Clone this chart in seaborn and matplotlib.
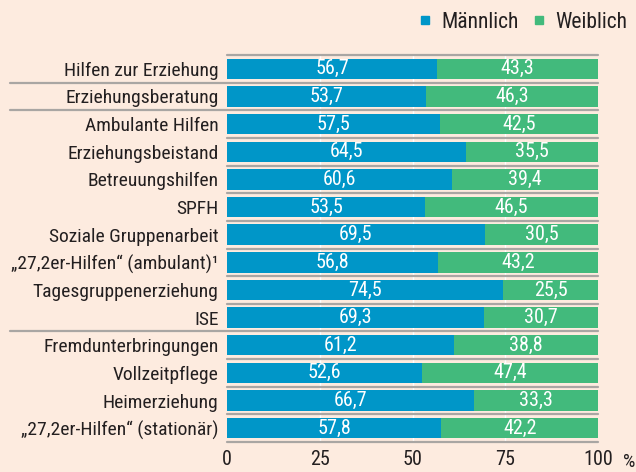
import seaborn as sns
import pandas as pd
import numpy as np
import matplotlib.pyplot as plt
from matplotlib.lines import Line2D

kategorien = [
    "Hilfen zur Erziehung", "Erziehungsberatung", "Ambulante Hilfen",
    "Erziehungsbeistand", "Betreuungshilfen", "SPFH", "Soziale Gruppenarbeit",
    "„27,2er-Hilfen“ (ambulant)¹", "Tagesgruppenerziehung", "ISE",
    "Fremdunterbringungen", "Vollzeitpflege", "Heimerziehung",
    "„27,2er-Hilfen“ (stationär)",
]
maennlich = [56.7, 53.7, 57.5, 64.5, 60.6, 53.5, 69.5, 56.8, 74.5, 69.3, 61.2, 52.6, 66.7, 57.8]
weiblich = [43.3, 46.3, 42.5, 35.5, 39.4, 46.5, 30.5, 43.2, 25.5, 30.7, 38.8, 47.4, 33.3, 42.2]
x_ticks = [0, 25, 50, 75, 100]

blau = "#0096C8"
gruen = "#42BA7C"
hintergrund = "#FDEBDF"
linie = "#A9A6A3"
text_farbe = "#231F20"

df = pd.DataFrame({"kategorie": kategorien, "maennlich": maennlich, "weiblich": weiblich})
df["gesamt"] = df["maennlich"] + df["weiblich"]

sns.set_style("white")
plt.rcParams["font.family"] = ["Roboto Condensed", "DejaVu Sans"]

fig = plt.figure(figsize=(6.36, 4.72), dpi=100, facecolor=hintergrund)
ax = fig.add_axes([227 / 636, 1 - 442 / 472, 371 / 636, 387 / 472])
ax.set_facecolor(hintergrund)

# weiße Gitterlinien hinter den Balken
for t in x_ticks[1:-1]:
    ax.axvline(t, color="white", lw=1, zorder=0)

# gestapelt: erst die Summe (grün), dann männlich darüber (blau)
sns.barplot(data=df, y="kategorie", x="gesamt", color=gruen, width=0.74,
            orient="h", ax=ax, zorder=2, saturation=1, linewidth=0)
sns.barplot(data=df, y="kategorie", x="maennlich", color=blau, width=0.74,
            orient="h", ax=ax, zorder=3, saturation=1, linewidth=0)

for i, (m, w) in enumerate(zip(maennlich, weiblich)):
    ax.text(m / 2, i, f"{m:.1f}".replace(".", ","), color="white", ha="center",
            va="center", fontsize=14.5, zorder=4)
    ax.text(m + w / 2, i, f"{w:.1f}".replace(".", ","), color="white", ha="center",
            va="center", fontsize=14.5, zorder=4)

# Trennlinien zwischen den Zeilen
n = len(kategorien)
lang = [0.5, 1.5, 9.5]
for y in np.arange(-0.5, n, 1.0):
    x0 = -0.585 if y in lang else 0
    ax.add_line(Line2D([x0, 1.0], [y, y], transform=ax.get_yaxis_transform(),
                       color=linie, lw=1.6, clip_on=False, zorder=1))

ax.set_xlim(0, 100)
ax.set_ylim(n - 0.5, -0.5)
ax.set_xticks(x_ticks)
ax.set_xticklabels([str(t) for t in x_ticks], fontsize=14.5, color=text_farbe)
ax.tick_params(axis="x", length=0, pad=6)
ax.tick_params(axis="y", length=0, pad=6, labelsize=14, labelcolor=text_farbe)
ax.set_xlabel("")
ax.set_ylabel("")
sns.despine(ax=ax, left=True, bottom=True)
fig.text(629 / 636, 1 - 462 / 472, "%", fontsize=14, color=text_farbe, ha="center", va="center")

handles = [
    Line2D([], [], marker="s", linestyle="", color=blau, markersize=6),
    Line2D([], [], marker="s", linestyle="", color=gruen, markersize=6),
]
fig.legend(handles, ["Männlich", "Weiblich"], loc="center right",
           bbox_to_anchor=(1.017, 1 - 22 / 472), ncol=2, frameon=False,
           fontsize=15.5, handletextpad=0.35, columnspacing=0.55, handlelength=0.8,
           labelcolor=text_farbe)

fig.savefig("out.png", dpi=100, facecolor=hintergrund)
